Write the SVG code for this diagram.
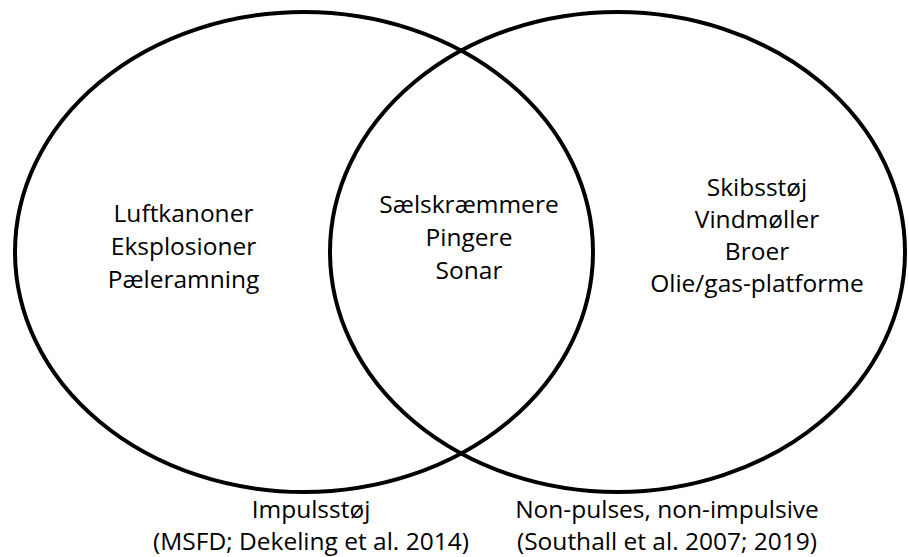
<svg xmlns="http://www.w3.org/2000/svg" width="909" height="557" viewBox="0 0 909 557">
<style>
.c{fill:none;stroke:#000;stroke-width:4}
.t{font-family:"Open Sans","Noto Sans",sans-serif;font-size:24.5px;fill:#000;text-anchor:middle}
</style>
<rect width="909" height="557" fill="#fff"/>
<g id="left-set"><ellipse class="c" cx="304" cy="252" rx="289" ry="240"/></g>
<g id="right-set"><ellipse class="c" cx="617.5" cy="252" rx="287.5" ry="240"/></g>
<g id="left-text">
<text class="t" x="183.5" y="222">Luftkanoner</text>
<text class="t" x="183.5" y="255">Eksplosioner</text>
<text class="t" x="183.5" y="288">Pæleramning</text>
</g>
<g id="center-text">
<text class="t" x="469" y="213">Sælskræmmere</text>
<text class="t" x="469" y="246">Pingere</text>
<text class="t" x="469" y="279">Sonar</text>
</g>
<g id="right-text">
<text class="t" x="757" y="196">Skibsstøj</text>
<text class="t" x="757" y="228">Vindmøller</text>
<text class="t" x="757" y="260">Broer</text>
<text class="t" x="757" y="292">Olie/gas-platforme</text>
</g>
<g id="labels">
<text class="t" x="311" y="518">Impulsstøj</text>
<text class="t" x="311" y="550">(MSFD; Dekeling et al. 2014)</text>
<text class="t" x="667" y="518">Non-pulses, non-impulsive</text>
<text class="t" x="667" y="550">(Southall et al. 2007; 2019)</text>
</g>
</svg>
